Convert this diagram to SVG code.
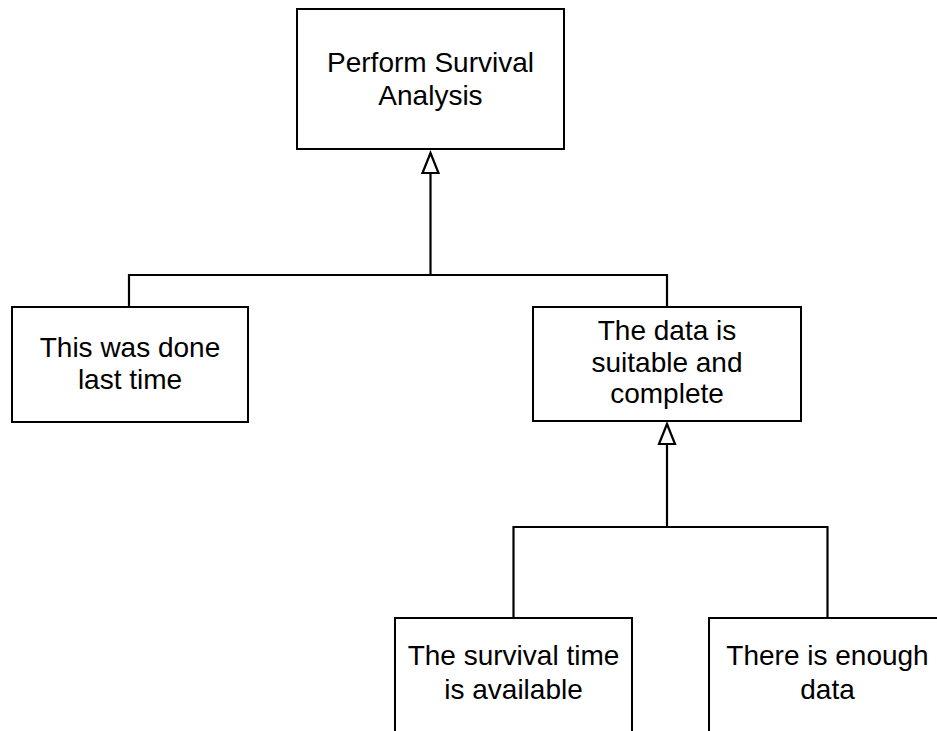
<svg xmlns="http://www.w3.org/2000/svg" width="937" height="731" viewBox="0 0 937 731">
  <style>
    .box { fill: #ffffff; stroke: #000000; stroke-width: 2; }
    .conn { fill: none; stroke: #000000; stroke-width: 2.2; }
    .lbl { font-family: "Liberation Sans", Arial, Helvetica, sans-serif; font-size: 28px; fill: #000000; text-anchor: middle; }
  </style>
  <defs>
    <marker id="hollow" markerUnits="userSpaceOnUse" viewBox="-22 -10 24 20" refX="0" refY="0" markerWidth="24" markerHeight="20" orient="auto" overflow="visible">
      <path d="M0,0 L-20,-8 L-20,8 Z" fill="#ffffff" stroke="#000000" stroke-width="2.2" stroke-linejoin="miter"/>
    </marker>
  </defs>
  <rect width="937" height="731" fill="#ffffff"/>

  <g id="connectors">
    <path class="conn" d="M129,307 V275 H667 V307"/>
    <path class="conn" d="M430.5,275 V153" marker-end="url(#hollow)"/>
    <path class="conn" d="M513.5,618 V527 H827.5 V618"/>
    <path class="conn" d="M667,527 V424" marker-end="url(#hollow)"/>
  </g>

  <g id="node-perform">
    <rect class="box" x="297" y="9" width="267" height="140"/>
    <text class="lbl" x="430.5" y="72">Perform Survival</text>
    <text class="lbl" x="430.5" y="105">Analysis</text>
  </g>

  <g id="node-last-time">
    <rect class="box" x="12" y="307" width="236" height="115"/>
    <text class="lbl" x="130" y="357">This was done</text>
    <text class="lbl" x="130" y="389">last time</text>
  </g>

  <g id="node-data-suitable">
    <rect class="box" x="533" y="307" width="268" height="114"/>
    <text class="lbl" x="667" y="340">The data is</text>
    <text class="lbl" x="667" y="372">suitable and</text>
    <text class="lbl" x="667" y="403">complete</text>
  </g>

  <g id="node-survival-time">
    <rect class="box" x="395" y="618" width="237" height="115"/>
    <text class="lbl" x="513.5" y="665">The survival time</text>
    <text class="lbl" x="513.5" y="699">is available</text>
  </g>

  <g id="node-enough-data">
    <rect class="box" x="709" y="618" width="237" height="115"/>
    <text class="lbl" x="827.5" y="665">There is enough</text>
    <text class="lbl" x="827.5" y="699">data</text>
  </g>
</svg>
